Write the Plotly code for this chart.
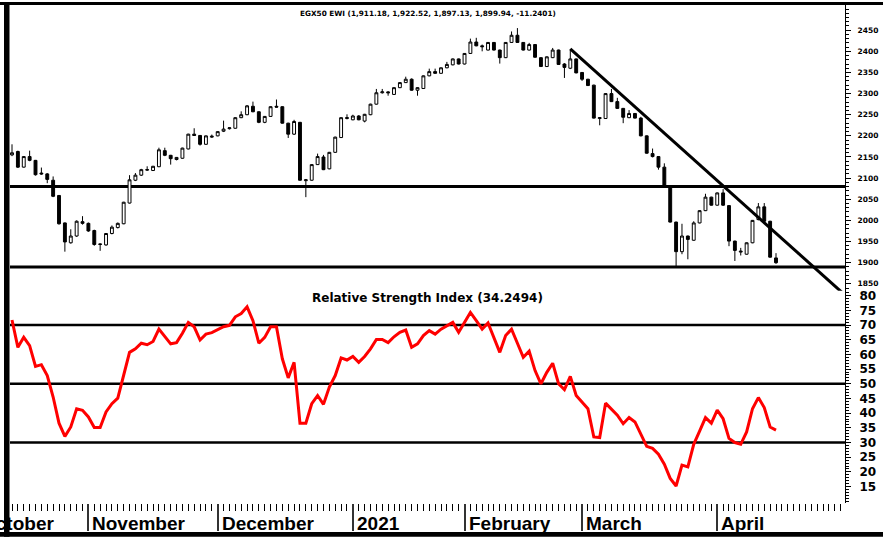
import plotly.graph_objects as go

# ---------------- data ----------------
opens = [2155, 2163, 2126, 2151, 2142, 2112, 2110, 2095, 2059, 1994,
         1947, 1963, 1997, 1993, 1976, 1943, 1942, 1969, 1983, 1992,
         2041, 2095, 2107, 2119, 2118, 2127, 2165, 2154, 2144, 2147,
         2169, 2204, 2201, 2180, 2197, 2200, 2211, 2217, 2218, 2243,
         2250, 2270, 2257, 2232, 2246, 2270, 2269, 2230, 2204, 2232,
         2094, 2095, 2132, 2150, 2122, 2161, 2196, 2241, 2238, 2247,
         2235, 2250, 2275, 2302, 2304, 2298, 2314, 2326, 2334, 2308,
         2312, 2342, 2352, 2348, 2361, 2368, 2382, 2370, 2395, 2422,
         2413, 2403, 2421, 2403, 2385, 2421, 2438, 2421, 2403, 2416,
         2385, 2364, 2385, 2403, 2370, 2360, 2382, 2350, 2334, 2320,
         2241, 2241, 2300, 2281, 2265, 2243, 2253, 2242, 2200, 2158,
         2151, 2126, 2080, 1996, 1926, 1963, 1953, 1994, 2023, 2055,
         2036, 2065, 2035, 1951, 1925, 1920, 1947, 2002, 2032, 1998,
         1911.18]
highs = [2180, 2165, 2152, 2165, 2143, 2125, 2112, 2104, 2060, 1995,
         1979, 2000, 2010, 1995, 1978, 1945, 1970, 1988, 1995, 2044,
         2107, 2112, 2122, 2128, 2129, 2172, 2172, 2155, 2150, 2172,
         2205, 2218, 2202, 2201, 2203, 2211, 2236, 2220, 2244, 2258,
         2273, 2281, 2258, 2247, 2270, 2286, 2270, 2231, 2238, 2233,
         2098, 2133, 2158, 2155, 2162, 2198, 2244, 2251, 2250, 2249,
         2252, 2276, 2311, 2311, 2306, 2315, 2327, 2340, 2336, 2315,
         2343, 2359, 2359, 2362, 2375, 2383, 2383, 2396, 2430, 2432,
         2416, 2422, 2422, 2404, 2422, 2447, 2455, 2422, 2420, 2417,
         2386, 2388, 2408, 2404, 2372, 2405, 2383, 2351, 2335, 2321,
         2244, 2301, 2311, 2290, 2266, 2261, 2254, 2245, 2201, 2170,
         2152, 2135, 2081, 1997, 1992, 1964, 1998, 2024, 2063, 2056,
         2066, 2074, 2036, 1952, 1935, 1948, 2001, 2041, 2041, 1999,
         1922.52]
lows = [2152, 2124, 2125, 2140, 2106, 2108, 2088, 2055, 1990, 1926,
        1945, 1961, 1990, 1973, 1940, 1928, 1940, 1967, 1981, 1991,
        2040, 2093, 2105, 2117, 2117, 2126, 2152, 2132, 2142, 2146,
        2168, 2200, 2177, 2179, 2195, 2199, 2209, 2215, 2217, 2242,
        2249, 2256, 2230, 2230, 2245, 2267, 2229, 2195, 2202, 2094,
        2055, 2094, 2131, 2119, 2121, 2160, 2195, 2239, 2237, 2237,
        2232, 2249, 2274, 2300, 2295, 2297, 2313, 2325, 2307, 2295,
        2311, 2341, 2347, 2347, 2360, 2367, 2369, 2369, 2394, 2412,
        2400, 2402, 2402, 2371, 2384, 2420, 2420, 2402, 2402, 2385,
        2363, 2363, 2384, 2368, 2337, 2358, 2348, 2330, 2318, 2241,
        2225, 2240, 2280, 2264, 2230, 2242, 2241, 2199, 2158, 2149,
        2120, 2080, 1995, 1892, 1920, 1908, 1952, 1993, 2022, 2035,
        2035, 2034, 1939, 1904, 1917, 1919, 1946, 2000, 1997, 1912,
        1897.13]
closes = [2160, 2126, 2151, 2142, 2108, 2110, 2097, 2057, 1992, 1949,
          1963, 1998, 1993, 1975, 1943, 1944, 1969, 1984, 1993, 2043,
          2096, 2107, 2120, 2120, 2128, 2167, 2154, 2146, 2149, 2171,
          2204, 2201, 2180, 2200, 2199, 2210, 2216, 2219, 2243, 2250,
          2271, 2257, 2232, 2246, 2269, 2268, 2230, 2204, 2234, 2095,
          2096, 2132, 2151, 2120, 2161, 2197, 2243, 2243, 2247, 2238,
          2251, 2275, 2302, 2304, 2302, 2314, 2326, 2334, 2308, 2314,
          2342, 2352, 2348, 2361, 2369, 2382, 2370, 2395, 2422, 2413,
          2411, 2421, 2403, 2385, 2421, 2438, 2421, 2403, 2416, 2386,
          2364, 2387, 2403, 2369, 2362, 2382, 2349, 2334, 2319, 2242,
          2243, 2300, 2281, 2265, 2244, 2253, 2242, 2200, 2159, 2151,
          2126, 2081, 1996, 1926, 1963, 1955, 1994, 2023, 2055, 2036,
          2065, 2036, 1951, 1929, 1927, 1947, 2000, 2032, 1998, 1913,
          1899.94]
rsi = [71.7, 62.4, 65.8, 63.0, 55.9, 56.5, 52.8, 45.5, 36.6, 32.1,
       35.3, 41.5, 41.0, 38.7, 35.1, 35.1, 40.4, 43.2, 45.1, 53.4,
       60.7, 61.9, 63.8, 63.3, 64.4, 68.6, 66.0, 63.6, 64.0, 67.2,
       70.9, 69.4, 64.9, 66.9, 67.4, 68.5, 69.4, 69.9, 72.8, 73.9,
       76.2, 71.5, 63.8, 65.8, 69.4, 69.4, 58.5, 52.0, 57.3, 36.6,
       36.6, 43.2, 46.0, 43.0, 48.9, 52.8, 58.8, 58.1, 59.3, 57.3,
       59.3, 61.9, 65.1, 65.1, 64.0, 66.0, 67.5, 68.3, 62.4, 63.6,
       66.4, 68.1, 66.9, 68.6, 69.8, 70.9, 67.5, 70.9, 74.3, 71.5,
       68.6, 70.7, 65.8, 60.7, 66.4, 68.6, 63.8, 59.0, 61.1, 54.5,
       50.0, 53.9, 57.0, 50.0, 48.0, 52.5, 46.0, 43.8, 41.5, 31.9,
       31.7, 43.4, 41.5, 39.3, 36.4, 38.5, 37.0, 33.0, 28.7, 28.0,
       26.0, 22.6, 17.8, 15.2, 22.3, 21.7, 29.4, 33.9, 38.5, 36.6,
       41.0, 38.1, 31.4, 30.0, 29.4, 33.6, 41.5, 45.3, 41.9, 35.3,
       34.2494]
day_index = list(range(len(closes)))

month_labels = ["October", "November", "December", "2021", "February", "March", "April"]
month_starts = [-6, 13, 35, 58, 77, 97, 120]
price_ticks = list(range(1850, 2451, 50))
rsi_ticks = list(range(15, 81, 5))
price_levels = [2080, 1890]
rsi_levels = [70, 50, 30]
trend_x = [95, 142]
trend_y = [2406, 1820]
price_title = "EGX50 EWI (1,911.18, 1,922.52, 1,897.13, 1,899.94, -11.2401)"
rsi_title = "Relative Strength Index (34.2494)"

# ---------------- layout geometry ----------------
W, H = 883, 537
ML, MR, MT, MB = 10, 38, 3, 34
PW, PH = W - ML - MR, H - MT - MB
x_range = [-0.34, 141.74]
split = 0.426


def px_x(px):
    return (px - ML) / PW


def px_y(py):
    return (H - MB - py) / PH


fig = go.Figure()

fig.add_trace(go.Candlestick(
    x=day_index, open=opens, high=highs, low=lows, close=closes,
    increasing=dict(line=dict(color="black", width=1), fillcolor="white"),
    decreasing=dict(line=dict(color="black", width=1), fillcolor="black"),
    whiskerwidth=0, xaxis="x", yaxis="y", showlegend=False, hoverinfo="skip"))

fig.add_trace(go.Scatter(
    x=trend_x, y=trend_y, mode="lines", line=dict(color="black", width=3),
    xaxis="x", yaxis="y", showlegend=False, hoverinfo="skip"))

fig.add_trace(go.Scatter(
    x=day_index, y=rsi, mode="lines", line=dict(color="#ff0000", width=3),
    xaxis="x", yaxis="y2", showlegend=False, hoverinfo="skip"))

shapes = []
for lv in price_levels:
    shapes.append(dict(type="line", xref="x domain", yref="y", x0=0, x1=1, y0=lv, y1=lv,
                       line=dict(color="black", width=3), layer="below"))
for lv in rsi_levels:
    shapes.append(dict(type="line", xref="x domain", yref="y2", x0=0, x1=1, y0=lv, y1=lv,
                       line=dict(color="black", width=2.5), layer="below"))

# outer frame
frame = dict(type="rect", xref="paper", yref="paper", line=dict(width=0),
             fillcolor="black", layer="above")
shapes.append({**frame, "x0": px_x(4), "x1": px_x(9.5), "y0": px_y(0), "y1": px_y(537)})
shapes.append({**frame, "x0": px_x(0), "x1": px_x(883), "y0": px_y(0), "y1": px_y(3)})
shapes.append({**frame, "x0": px_x(0), "x1": px_x(883), "y0": px_y(532), "y1": px_y(537)})

annotations = [
    dict(text=price_title, xref="paper", yref="paper", x=0.5, y=px_y(11.5),
         xanchor="center", yanchor="middle", showarrow=False,
         font=dict(family="DejaVu Sans", size=7.3, color="black", weight="bold")),
    dict(text=rsi_title, xref="paper", yref="paper", x=0.5, y=px_y(297.5),
         xanchor="center", yanchor="middle", showarrow=False,
         font=dict(family="DejaVu Sans", size=12, color="black", weight="bold")),
]
for lab, st in zip(month_labels, month_starts):
    annotations.append(dict(
        text=lab, xref="paper", yref="paper",
        x=(st - x_range[0]) / (x_range[1] - x_range[0]), y=px_y(511),
        xanchor="left", yanchor="top", xshift=2, showarrow=False,
        font=dict(family="Liberation Sans", size=19, color="black", weight="bold")))

fig.update_layout(
    width=W, height=H,
    margin=dict(l=ML, r=MR, t=MT, b=MB, pad=0),
    paper_bgcolor="white", plot_bgcolor="white",
    showlegend=False,
    shapes=shapes, annotations=annotations,
    xaxis=dict(domain=[0, 1], anchor="y2", range=x_range, showgrid=False, zeroline=False,
               tickmode="array", tickvals=month_starts, showticklabels=False,
               ticks="outside", ticklen=27, tickwidth=2, tickcolor="#333",
               minor=dict(tick0=0, dtick=1, ticks="outside", ticklen=7, tickwidth=1,
                          tickcolor="black"),
               rangeslider=dict(visible=False), fixedrange=True),
    yaxis=dict(domain=[split, 1], anchor="x", side="right", range=[1833.3, 2509.6],
               showgrid=False, zeroline=False, showline=True, linecolor="black", linewidth=1,
               tickmode="array", tickvals=price_ticks, ticks="outside", ticklen=5,
               tickcolor="black", ticklabelstandoff=5,
               tickfont=dict(family="DejaVu Sans", size=7.5, color="black", weight="bold"),
               minor=dict(tick0=0, dtick=10, ticks="outside", ticklen=3, tickcolor="black")),
    yaxis2=dict(domain=[0, split], anchor="x", side="right", range=[9.42, 81.63],
                showgrid=False, zeroline=False, showline=True, linecolor="black", linewidth=1,
                tickmode="array", tickvals=rsi_ticks, ticks="outside", ticklen=5,
                tickcolor="black", ticklabelstandoff=6,
                tickfont=dict(family="DejaVu Sans", size=12, color="black", weight="bold"),
                minor=dict(tick0=0, dtick=1, ticks="outside", ticklen=3, tickcolor="black")),
)

fig.write_html("out.html", config={"displayModeBar": False},
               post_script="document.body.style.margin='0px';")
